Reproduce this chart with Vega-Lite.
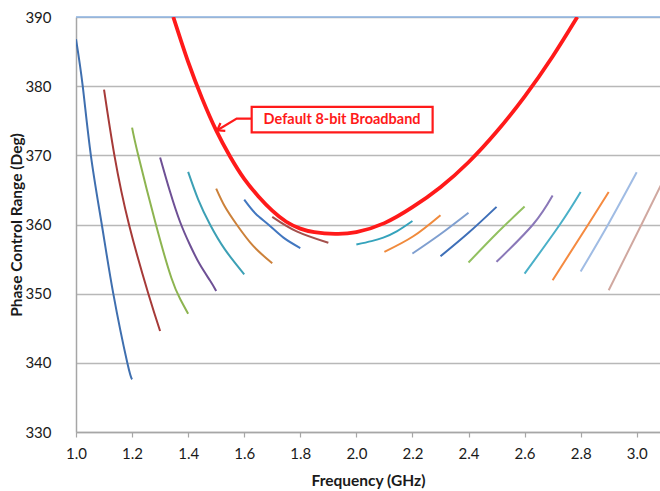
{
  "$schema": "https://vega.github.io/schema/vega-lite/v6.json",
  "width": 584,
  "height": 415,
  "autosize": {"type": "none"},
  "padding": {"left": 76, "top": 17, "right": 0, "bottom": 59},
  "background": "white",
  "config": {
    "view": {"stroke": null},
    "font": "Lato",
    "axis": {"labelFont": "Lato", "titleFont": "Lato", "labelColor": "#1a1a1a", "titleColor": "#1a1a1a"}
  },
  "datasets": {
    "segs": [
      {"s": "s01", "f": 1.0, "v": 386.8}, {"s": "s01", "f": 1.024, "v": 380}, {"s": "s01", "f": 1.053, "v": 370}, {"s": "s01", "f": 1.092, "v": 360}, {"s": "s01", "f": 1.133, "v": 350}, {"s": "s01", "f": 1.183, "v": 340}, {"s": "s01", "f": 1.2, "v": 337.6},
      {"s": "s02", "f": 1.1, "v": 379.5}, {"s": "s02", "f": 1.137, "v": 370}, {"s": "s02", "f": 1.189, "v": 360}, {"s": "s02", "f": 1.258, "v": 350}, {"s": "s02", "f": 1.3, "v": 344.6},
      {"s": "s03", "f": 1.2, "v": 374.0}, {"s": "s03", "f": 1.222, "v": 370}, {"s": "s03", "f": 1.285, "v": 360}, {"s": "s03", "f": 1.34, "v": 352.3}, {"s": "s03", "f": 1.372, "v": 349.2}, {"s": "s03", "f": 1.4, "v": 347.1},
      {"s": "s04", "f": 1.3, "v": 369.7}, {"s": "s04", "f": 1.335, "v": 364.8}, {"s": "s04", "f": 1.371, "v": 360.4}, {"s": "s04", "f": 1.407, "v": 357.0}, {"s": "s04", "f": 1.442, "v": 354.2}, {"s": "s04", "f": 1.478, "v": 351.9}, {"s": "s04", "f": 1.5, "v": 350.4},
      {"s": "s05", "f": 1.4, "v": 367.6}, {"s": "s05", "f": 1.436, "v": 363.6}, {"s": "s05", "f": 1.478, "v": 360}, {"s": "s05", "f": 1.531, "v": 356.4}, {"s": "s05", "f": 1.6, "v": 352.8},
      {"s": "s06", "f": 1.5, "v": 365.2}, {"s": "s06", "f": 1.531, "v": 362.6}, {"s": "s06", "f": 1.573, "v": 360}, {"s": "s06", "f": 1.632, "v": 356.9}, {"s": "s06", "f": 1.7, "v": 354.4},
      {"s": "s07", "f": 1.6, "v": 363.6}, {"s": "s07", "f": 1.64, "v": 361.6}, {"s": "s07", "f": 1.686, "v": 360}, {"s": "s07", "f": 1.74, "v": 358.1}, {"s": "s07", "f": 1.8, "v": 356.6},
      {"s": "s08", "f": 1.7, "v": 361.1}, {"s": "s08", "f": 1.787, "v": 359.0}, {"s": "s08", "f": 1.9, "v": 357.35},
      {"s": "s09", "f": 2.0, "v": 357.1}, {"s": "s09", "f": 2.054, "v": 357.6}, {"s": "s09", "f": 2.096, "v": 358.1}, {"s": "s09", "f": 2.144, "v": 359.0}, {"s": "s09", "f": 2.2, "v": 360.5},
      {"s": "s10", "f": 2.1, "v": 356.05}, {"s": "s10", "f": 2.203, "v": 358.3}, {"s": "s10", "f": 2.3, "v": 361.35},
      {"s": "s11", "f": 2.2, "v": 355.8}, {"s": "s11", "f": 2.298, "v": 358.55}, {"s": "s11", "f": 2.4, "v": 361.7},
      {"s": "s12", "f": 2.3, "v": 355.4}, {"s": "s12", "f": 2.4, "v": 358.8}, {"s": "s12", "f": 2.5, "v": 362.55},
      {"s": "s13", "f": 2.4, "v": 354.5}, {"s": "s13", "f": 2.5, "v": 358.7}, {"s": "s13", "f": 2.6, "v": 362.6},
      {"s": "s14", "f": 2.5, "v": 354.6}, {"s": "s14", "f": 2.63, "v": 360}, {"s": "s14", "f": 2.7, "v": 364.2},
      {"s": "s15", "f": 2.6, "v": 352.9}, {"s": "s15", "f": 2.726, "v": 360}, {"s": "s15", "f": 2.8, "v": 364.7},
      {"s": "s16", "f": 2.7, "v": 351.95}, {"s": "s16", "f": 2.827, "v": 360}, {"s": "s16", "f": 2.9, "v": 364.7},
      {"s": "s17", "f": 2.8, "v": 353.2}, {"s": "s17", "f": 2.898, "v": 360}, {"s": "s17", "f": 3.0, "v": 367.55},
      {"s": "s18", "f": 2.9, "v": 350.5}, {"s": "s18", "f": 3.017, "v": 360}, {"s": "s18", "f": 3.1, "v": 366.8}
    ],
    "broadband": [
      {"f": 1.347, "v": 390}, {"f": 1.4, "v": 383.5}, {"f": 1.45, "v": 378.2}, {"f": 1.5, "v": 373.6}, {"f": 1.55, "v": 369.8},
      {"f": 1.6, "v": 366.6}, {"f": 1.65, "v": 364.1}, {"f": 1.7, "v": 362.0}, {"f": 1.75, "v": 360.4}, {"f": 1.8, "v": 359.4},
      {"f": 1.85, "v": 358.9}, {"f": 1.924, "v": 358.65}, {"f": 2.0, "v": 358.9}, {"f": 2.1, "v": 360.2}, {"f": 2.2, "v": 362.5},
      {"f": 2.3, "v": 365.4}, {"f": 2.4, "v": 369.0}, {"f": 2.5, "v": 373.4}, {"f": 2.6, "v": 378.5}, {"f": 2.7, "v": 384.3},
      {"f": 2.788, "v": 390}
    ],
    "arrow": [
      {"part": "shaft", "o": 1, "f": 1.6266, "v": 375.31}, {"part": "shaft", "o": 2, "f": 1.5731, "v": 375.31}, {"part": "shaft", "o": 3, "f": 1.5039, "v": 373.62},
      {"part": "head", "o": 1, "f": 1.5153, "v": 374.67}, {"part": "head", "o": 2, "f": 1.5039, "v": 373.62}, {"part": "head", "o": 3, "f": 1.5325, "v": 373.55}
    ],
    "box": [
      {"f1": 1.6266, "f2": 2.272, "v1": 373.33, "v2": 377.0, "fc": 1.949, "vc": 375.17, "label": "Default 8-bit Broadband"}
    ]
  },
  "layer": [
    {
      "data": {"name": "segs"},
      "mark": {"type": "line", "strokeWidth": 2, "interpolate": "natural", "clip": true},
      "encoding": {
        "x": {
          "field": "f", "type": "quantitative",
          "scale": {"domain": [1.0, 3.083], "nice": false, "zero": false},
          "axis": {
            "title": "Frequency (GHz)",
            "values": [1.0, 1.1, 1.2, 1.3, 1.4, 1.5, 1.6, 1.7, 1.8, 1.9, 2.0, 2.1, 2.2, 2.3, 2.4, 2.5, 2.6, 2.7, 2.8, 2.9, 3.0],
            "labelExpr": "round(datum.value*10) % 2 == 0 ? format(datum.value, '.1f') : ''",
            "grid": false,
            "domainColor": "#a6a6a6", "domainWidth": 1.5,
            "tickColor": "#a6a6a6", "tickSize": 5, "tickWidth": 1.2,
            "labelFontSize": 15, "labelPadding": 9, "labelFlush": false,
            "titleFontSize": 15.5, "titleFontWeight": "bold", "titlePadding": 12
          }
        },
        "y": {
          "field": "v", "type": "quantitative",
          "scale": {"domain": [330, 390], "nice": false, "zero": false},
          "axis": {
            "title": "Phase Control Range (Deg)",
            "values": [330, 340, 350, 360, 370, 380, 390],
            "grid": true, "gridColor": "#b8b8b8", "gridWidth": 1.5,
            "domainColor": "#a6a6a6", "domainWidth": 1.5,
            "ticks": false,
            "labelFontSize": 15, "labelPadding": 25,
            "titleFontSize": 15.5, "titleFontWeight": "bold", "titlePadding": 0
          }
        },
        "color": {
          "field": "s", "type": "nominal", "legend": null,
          "scale": {
            "domain": ["s01", "s02", "s03", "s04", "s05", "s06", "s07", "s08", "s09", "s10", "s11", "s12", "s13", "s14", "s15", "s16", "s17", "s18"],
            "range": ["#3F6FAF", "#A63A38", "#8DB450", "#6E5095", "#3CA0B5", "#CC813A", "#4277C0", "#A4504C", "#35A3BC", "#F08A3C", "#7F9FD0", "#3E6FB8", "#92C060", "#8A78B8", "#4AB0C8", "#F58A40", "#A0BCE4", "#D0A8A0"]
          }
        }
      }
    },
    {
      "data": {"values": [{"v": 390}]},
      "mark": {"type": "rule", "color": "#8EB4E3", "strokeWidth": 1.5},
      "encoding": {"y": {"field": "v", "type": "quantitative"}}
    },
    {
      "data": {"name": "broadband"},
      "mark": {"type": "line", "color": "#FF1A1A", "strokeWidth": 3.8, "interpolate": "natural", "clip": true},
      "encoding": {
        "x": {"field": "f", "type": "quantitative"},
        "y": {"field": "v", "type": "quantitative"}
      }
    },
    {
      "data": {"name": "arrow"},
      "mark": {"type": "line", "color": "#FF1A1A", "strokeWidth": 2.2},
      "encoding": {
        "x": {"field": "f", "type": "quantitative"},
        "y": {"field": "v", "type": "quantitative"},
        "detail": {"field": "part"},
        "order": {"field": "o", "type": "quantitative"}
      }
    },
    {
      "data": {"name": "box"},
      "mark": {"type": "rect", "fill": "white", "stroke": "#FF1A1A", "strokeWidth": 2.2},
      "encoding": {
        "x": {"field": "f1", "type": "quantitative"},
        "x2": {"field": "f2"},
        "y": {"field": "v1", "type": "quantitative"},
        "y2": {"field": "v2"}
      }
    },
    {
      "data": {"name": "box"},
      "mark": {"type": "text", "color": "#FF1A1A", "fontWeight": "bold", "fontSize": 14.5, "font": "Lato", "align": "center", "baseline": "middle"},
      "encoding": {
        "x": {"field": "fc", "type": "quantitative"},
        "y": {"field": "vc", "type": "quantitative"},
        "text": {"field": "label"}
      }
    }
  ]
}
